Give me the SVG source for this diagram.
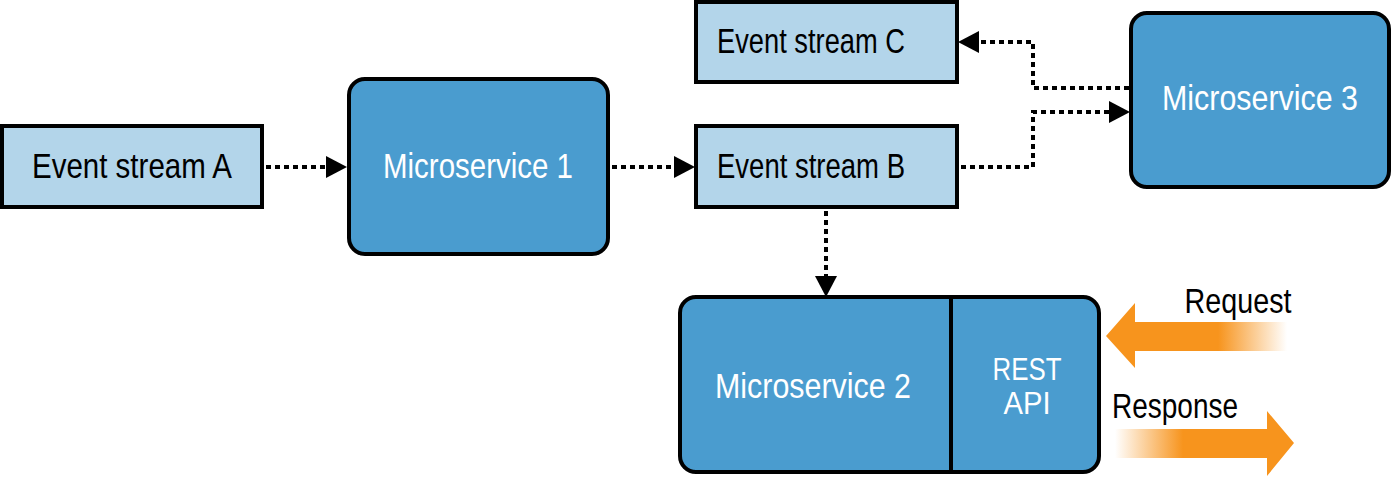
<svg xmlns="http://www.w3.org/2000/svg" width="1392" height="477" viewBox="0 0 1392 477">
<style>
.stream{fill:#b3d5ea;stroke:#000;stroke-width:4}
.svc{fill:#4a9ccf;stroke:#000;stroke-width:4}
.lbl{font-family:"Liberation Sans",Arial,sans-serif;font-size:35px;fill:#000}
.wlbl{font-family:"Liberation Sans",Arial,sans-serif;font-size:35px;fill:#fff}
.sm{font-size:31px}
.dot{fill:none;stroke:#000;stroke-width:4;stroke-dasharray:5 4}
.head{fill:#000}
</style>
<defs>
<linearGradient id="reqG" gradientUnits="userSpaceOnUse" x1="1106" y1="0" x2="1287" y2="0">
<stop offset="0" stop-color="#f7941d"/>
<stop offset="0.62" stop-color="#f7941d"/>
<stop offset="1" stop-color="#f7941d" stop-opacity="0"/>
</linearGradient>
<linearGradient id="resG" gradientUnits="userSpaceOnUse" x1="1115" y1="0" x2="1294" y2="0">
<stop offset="0" stop-color="#f7941d" stop-opacity="0"/>
<stop offset="0.38" stop-color="#f7941d"/>
<stop offset="1" stop-color="#f7941d"/>
</linearGradient>
</defs>
<g id="connectors">
<line class="dot" x1="266" y1="167" x2="327" y2="167"/>
<polygon class="head" points="326,156 347,167 326,178"/>
<line class="dot" x1="612" y1="167" x2="675" y2="167"/>
<polygon class="head" points="674,156 695,167 674,178"/>
<polyline class="dot" points="961,167 1033,167 1033,112 1111,112"/>
<polygon class="head" points="1109,101 1130,112 1109,123"/>
<polyline class="dot" points="1129,88 1033,88 1033,42 977,42"/>
<polygon class="head" points="979,31 958,42 979,53"/>
<line class="dot" x1="826" y1="211" x2="826" y2="278"/>
<polygon class="head" points="815,276 826,297 837,276"/>
</g>
<g id="stream-a">
<rect class="stream" x="2" y="126" width="260" height="81"/>
<text class="lbl" x="132" y="178" text-anchor="middle" textLength="200" lengthAdjust="spacingAndGlyphs">Event stream A</text>
</g>
<g id="microservice-1">
<rect class="svc" x="349" y="79" width="259" height="175" rx="16"/>
<text class="wlbl" x="478" y="178" text-anchor="middle" textLength="190" lengthAdjust="spacingAndGlyphs">Microservice 1</text>
</g>
<g id="stream-b">
<rect class="stream" x="696" y="126" width="261" height="81"/>
<text class="lbl" x="811" y="178" text-anchor="middle" textLength="188" lengthAdjust="spacingAndGlyphs">Event stream B</text>
</g>
<g id="stream-c">
<rect class="stream" x="696" y="2" width="261" height="80"/>
<text class="lbl" x="811" y="53" text-anchor="middle" textLength="188" lengthAdjust="spacingAndGlyphs">Event stream C</text>
</g>
<g id="microservice-3">
<rect class="svc" x="1131" y="13" width="258" height="174" rx="16"/>
<text class="wlbl" x="1260" y="110" text-anchor="middle" textLength="196" lengthAdjust="spacingAndGlyphs">Microservice 3</text>
</g>
<g id="microservice-2">
<rect class="svc" x="680" y="297" width="419" height="175" rx="16"/>
<line x1="951" y1="297" x2="951" y2="472" stroke="#000" stroke-width="4"/>
<text class="wlbl" x="813" y="398" text-anchor="middle" textLength="196" lengthAdjust="spacingAndGlyphs">Microservice 2</text>
<text class="wlbl sm" x="1027" y="380" text-anchor="middle" textLength="69" lengthAdjust="spacingAndGlyphs">REST</text>
<text class="wlbl sm" x="1027" y="414" text-anchor="middle" textLength="47" lengthAdjust="spacingAndGlyphs">API</text>
</g>
<g id="request">
<polygon fill="url(#reqG)" points="1106,336 1135,303 1135,322 1287,322 1287,351 1135,351 1135,368"/>
<text class="lbl" x="1238" y="313" text-anchor="middle" textLength="107" lengthAdjust="spacingAndGlyphs">Request</text>
</g>
<g id="response">
<polygon fill="url(#resG)" points="1115,429 1267,429 1267,411 1294,443 1267,476 1267,458 1115,458"/>
<text class="lbl" x="1175" y="418" text-anchor="middle" textLength="126" lengthAdjust="spacingAndGlyphs">Response</text>
</g>
</svg>
